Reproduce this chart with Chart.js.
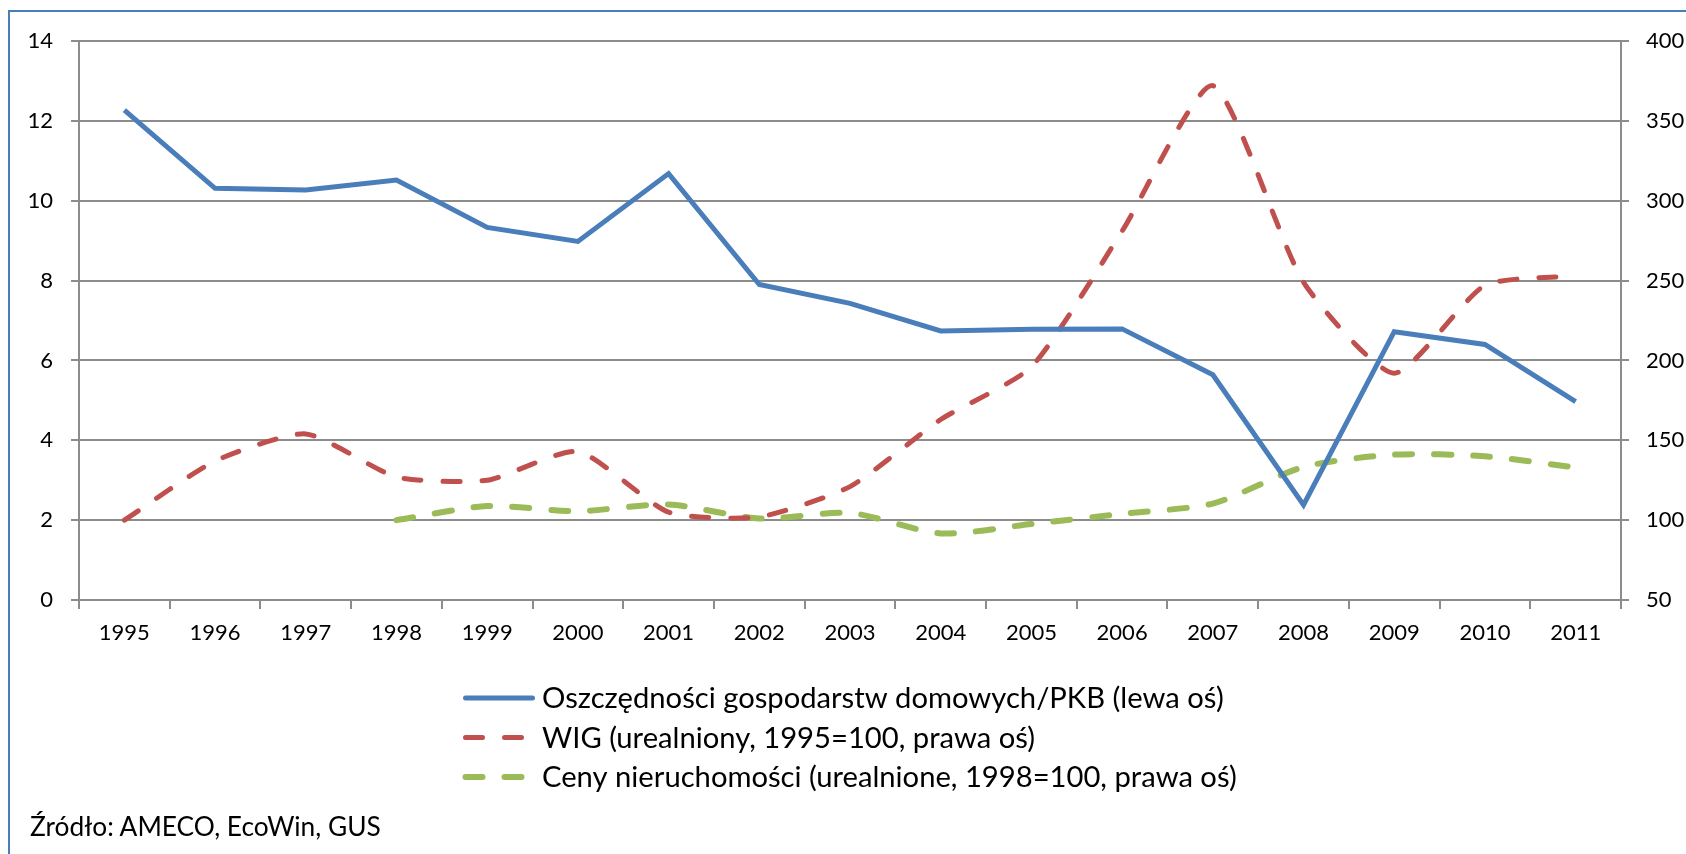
<!DOCTYPE html>
<html lang="pl">
<head>
<meta charset="utf-8">
<title>Oszczędności a ceny aktywów</title>
<script src="https://cdn.jsdelivr.net/npm/chart.js@4.4.0/dist/chart.umd.min.js"></script>
<style>
  html, body { margin: 0; padding: 0; background: #fff; overflow: hidden; }
  #wrap { position: relative; width: 1686px; height: 854px; overflow: hidden; }
  /* ramka wykresu - prawa i dolna krawedz poza kadrem */
  #frame { position: absolute; left: 8px; top: 10px; width: 1720px; height: 900px;
           border: 2px solid #4a7ebb; pointer-events: none; }
  #src { position: absolute; left: 30px; top: 813px; font-family: Lato, sans-serif;
         font-size: 26.3px; color: #000; line-height: 1; }
</style>
</head>
<body>
<div id="wrap">
  <canvas id="chart" width="1686" height="854"></canvas>
  <div id="frame"></div>
  <div id="src">Źródło: AMECO, EcoWin, GUS</div>
</div>
<script>
// lata na osi x
var years = ['1995','1996','1997','1998','1999','2000','2001','2002','2003',
             '2004','2005','2006','2007','2008','2009','2010','2011'];

// oszczednosci gospodarstw domowych / PKB (lewa os)
var savings = [12.27, 10.31, 10.27, 10.52, 9.33, 8.98, 10.68, 7.90, 7.43,
               6.74, 6.78, 6.79, 5.64, 2.38, 6.72, 6.40, 4.97];

// WIG realnie, 1995=100 (prawa os)
var wig = [100, 137, 154, 127, 125, 143, 105, 102, 121,
           163, 196, 281, 372, 249, 192, 247, 253];

// ceny nieruchomosci realnie, 1998=100 (prawa os)
var housing = [null, null, null, 100, 108.8, 105.6, 109.8, 101, 104.5,
               91.7, 97.6, 104, 110.4, 133.3, 141, 140, 133];

var labels = ['Oszczędności gospodarstw domowych/PKB (lewa oś)',
              'WIG (urealniony, 1995=100, prawa oś)',
              'Ceny nieruchomości (urealnione, 1998=100, prawa oś)'];

var leftTicks = { min: 0, max: 14, step: 2 };
var rightTicks = { min: 50, max: 400, step: 50 };

var fontFam = 'Lato';
var gridColor = '#8c8c8c';
Chart.defaults.font.family = fontFam;
Chart.defaults.color = '#000';

// legenda w kolumnie, wyrownana do lewej (jak w Excelu)
var columnLegend = {
  id: 'columnLegend',
  afterDraw: function(chart, args, opts) {
    var ctx = chart.ctx;
    ctx.save();
    ctx.font = opts.size + 'px ' + fontFam;
    ctx.textBaseline = 'middle';
    ctx.textAlign = 'left';
    chart.data.datasets.forEach(function(ds, i) {
      var y = opts.top + i * opts.rowGap;
      ctx.beginPath();
      ctx.strokeStyle = ds.borderColor;
      ctx.lineWidth = ds.borderWidth;
      ctx.lineCap = 'round';
      ctx.setLineDash(ds.borderDash || []);
      ctx.moveTo(opts.x + 2.5, y);
      ctx.lineTo(opts.x + opts.sample - 2.5, y);
      ctx.stroke();
      ctx.setLineDash([]);
      ctx.fillStyle = '#000';
      ctx.fillText(ds.label, opts.x + opts.sample + opts.gap, y + 1);
    });
    ctx.restore();
  }
};

var ctx = document.getElementById('chart').getContext('2d');
window.myLine = new Chart(ctx, {
  type: 'line',
  data: {
    labels: years,
    datasets: [{
      label: labels[0],
      data: savings,
      yAxisID: 'y',
      borderColor: '#4a7ebb',
      borderWidth: 5,
      borderJoinStyle: 'miter',
      pointRadius: 0,
      fill: false,
      tension: 0
    }, {
      label: labels[1],
      data: wig,
      yAxisID: 'y1',
      borderColor: '#c0504d',
      borderWidth: 5,
      borderDash: [17, 22],
      borderCapStyle: 'round',
      borderJoinStyle: 'round',
      pointRadius: 0,
      fill: false,
      tension: 0.2
    }, {
      label: labels[2],
      data: housing,
      yAxisID: 'y1',
      borderColor: '#9bbb59',
      borderWidth: 6,
      borderDash: [17, 22],
      borderCapStyle: 'round',
      borderJoinStyle: 'round',
      pointRadius: 0,
      fill: false,
      tension: 0.25
    }]
  },
  options: {
    responsive: false,
    animation: false,
    layout: { padding: { top: 41, left: 0, right: 0, bottom: 194 } },
    plugins: {
      legend: { display: false },
      tooltip: { enabled: false },
      columnLegend: { x: 463, top: 698, rowGap: 39.5, sample: 72, gap: 7, size: 29.2 }
    },
    scales: {
      x: {
        offset: true,
        grid: { offset: true, drawOnChartArea: false, drawTicks: true, tickLength: 9,
                color: gridColor, lineWidth: 2 },
        border: { color: gridColor, width: 2 },
        ticks: { font: { size: 22 }, padding: 11, maxRotation: 0, autoSkip: false },
        afterFit: function(s) { s.height = 60; }
      },
      y: {
        position: 'left',
        min: leftTicks.min, max: leftTicks.max,
        ticks: { stepSize: leftTicks.step, font: { size: 22 }, padding: 18 },
        grid: { color: gridColor, lineWidth: 2, tickLength: 8 },
        border: { color: gridColor, width: 2 },
        afterFit: function(s) { s.width = 79; }
      },
      y1: {
        position: 'right',
        min: rightTicks.min, max: rightTicks.max,
        ticks: { stepSize: rightTicks.step, font: { size: 22 }, padding: 17 },
        grid: { drawOnChartArea: false, color: gridColor, lineWidth: 2, tickLength: 8 },
        border: { color: gridColor, width: 2 },
        afterFit: function(s) { s.width = 65; }
      }
    }
  },
  plugins: [columnLegend]
});
</script>
</body>
</html>
